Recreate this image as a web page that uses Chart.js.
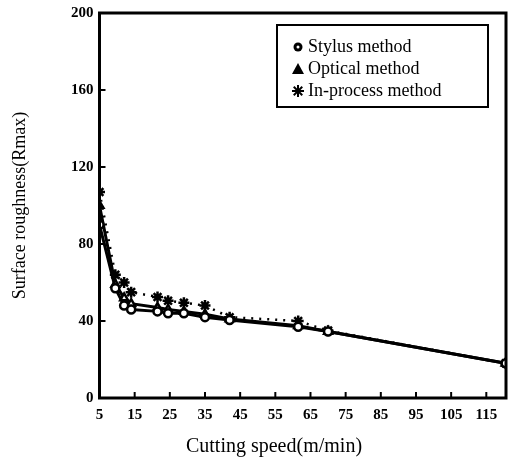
<!DOCTYPE html>
<html>
<head>
<meta charset="utf-8">
<script src="https://cdn.jsdelivr.net/npm/chart.js@4"></script>
<style>
  html, body { margin: 0; padding: 0; background: #fff; }
  #wrap { width: 514px; height: 464px; }
</style>
</head>
<body>
<div id="wrap"><canvas id="chart" width="514" height="464"></canvas></div>
<script>
// cutting speed (m/min) where readings were taken
const speeds = [5, 9.5, 12, 14, 21.5, 24.5, 29, 35, 42, 61.5, 70, 120.5]
// surface roughness Rmax
const stylus = [90, 57, 48, 46, 45, 44, 44, 42, 40.5, 37, 34.5, 18]
const optical = [100, 59, 52, 49, 47, 46, 45, 43.5, 41, 37.5, 34.5, 18]
const inProcess = [107, 64, 60, 55, 52.5, 50.5, 49.5, 48, 42, 40, 35, 18]
const xTicks = [5, 15, 25, 35, 45, 55, 65, 75, 85, 95, 105, 115]
const yTicks = [0, 40, 80, 120, 160, 200]
const seriesNames = ['Stylus method', 'Optical method', 'In-process method']

const serif = '"Liberation Serif", "DejaVu Serif", serif'

function pts(ys) {
  return speeds.map((x, i) => ({ x: x, y: ys[i] }))
}

// frame, inward ticks, x title and boxed legend
const framePlugin = {
  id: 'frame',
  afterDraw(chart) {
    const ctx = chart.ctx
    const a = chart.chartArea
    const xs = chart.scales.x
    const ys = chart.scales.y
    ctx.save()
    ctx.strokeStyle = '#000'
    ctx.lineWidth = 3
    ctx.strokeRect(a.left, a.top, a.right - a.left, a.bottom - a.top)
    ctx.lineWidth = 2
    xTicks.forEach(v => {
      const px = xs.getPixelForValue(v)
      ctx.beginPath(); ctx.moveTo(px, a.bottom); ctx.lineTo(px, a.bottom - 6); ctx.stroke()
    })
    yTicks.forEach(v => {
      const py = ys.getPixelForValue(v)
      ctx.beginPath(); ctx.moveTo(a.left, py); ctx.lineTo(a.left + 6, py); ctx.stroke()
    })

    ctx.fillStyle = '#000'
    ctx.textAlign = 'center'
    ctx.textBaseline = 'middle'
    ctx.font = '20px ' + serif
    ctx.fillText('Cutting speed(m/min)', 274, 447)

    // legend
    const lx = 277, ly = 25, lw = 211, lh = 82
    ctx.lineWidth = 2
    ctx.strokeRect(lx, ly, lw, lh)
    ctx.font = '18px ' + serif
    ctx.textAlign = 'left'
    const rows = [47, 69, 91]
    // marker: circle
    ctx.beginPath(); ctx.arc(298, rows[0], 4.5, 0, Math.PI * 2); ctx.fill()
    ctx.fillStyle = '#fff'
    ctx.beginPath(); ctx.arc(298, rows[0], 1.5, 0, Math.PI * 2); ctx.fill()
    ctx.fillStyle = '#000'
    // marker: triangle
    ctx.beginPath(); ctx.moveTo(298, rows[1] - 6); ctx.lineTo(304, rows[1] + 5); ctx.lineTo(292, rows[1] + 5); ctx.closePath(); ctx.fill()
    // marker: asterisk
    ctx.lineWidth = 2
    for (let k = 0; k < 4; k++) {
      const ang = k * Math.PI / 4
      ctx.beginPath()
      ctx.moveTo(298 - 6 * Math.cos(ang), rows[2] - 6 * Math.sin(ang))
      ctx.lineTo(298 + 6 * Math.cos(ang), rows[2] + 6 * Math.sin(ang))
      ctx.stroke()
    }
    seriesNames.forEach((n, i) => ctx.fillText(n, 308, rows[i]))
    ctx.restore()
  }
}

new Chart(document.getElementById('chart'), {
  type: 'line',
  data: {
    datasets: [
      {
        label: seriesNames[0], data: pts(stylus),
        borderColor: '#000', borderWidth: 3, backgroundColor: '#fff',
        pointStyle: 'circle', pointRadius: 4, pointBorderWidth: 2.5, pointBorderColor: '#000'
      },
      {
        label: seriesNames[1], data: pts(optical),
        borderColor: '#000', borderWidth: 3, backgroundColor: '#fff',
        pointStyle: 'triangle', pointRadius: 4.5, pointBorderWidth: 2.5, pointBorderColor: '#000'
      },
      {
        label: seriesNames[2], data: pts(inProcess),
        borderColor: '#000', borderWidth: 2.5, borderDash: [2, 6], backgroundColor: '#000',
        pointStyle: 'star', pointRadius: 5.5, pointBorderWidth: 2.5, pointBorderColor: '#000'
      }
    ]
  },
  options: {
    responsive: false,
    animation: false,
    layout: { padding: { left: 0, right: 3, top: 13, bottom: 0 } },
    plugins: { legend: { display: false }, tooltip: { enabled: false } },
    scales: {
      x: {
        type: 'linear', min: 5, max: 120.6,
        afterFit: s => { s.height = 66; s.paddingLeft = 0; s.paddingRight = 0 },
        afterBuildTicks: s => { s.ticks = xTicks.map(v => ({ value: v })) },
        grid: { display: false, drawTicks: false },
        border: { display: false },
        ticks: { color: '#000', padding: 8, maxRotation: 0, autoSkip: false, font: { family: serif, size: 15, weight: 'bold' } }
      },
      y: {
        min: 0, max: 200,
        afterFit: s => { s.width = 99.5; s.paddingTop = 0; s.paddingBottom = 0 },
        afterBuildTicks: s => { s.ticks = yTicks.map(v => ({ value: v })) },
        grid: { display: false, drawTicks: false },
        border: { display: false },
        ticks: { color: '#000', padding: 6, font: { family: serif, size: 15, weight: 'bold' } },
        title: { display: true, text: 'Surface roughness(Rmax)', color: '#000', font: { family: serif, size: 18 }, padding: { top: 9, bottom: 0 } }
      }
    }
  },
  plugins: [framePlugin]
})
</script>
</body>
</html>
